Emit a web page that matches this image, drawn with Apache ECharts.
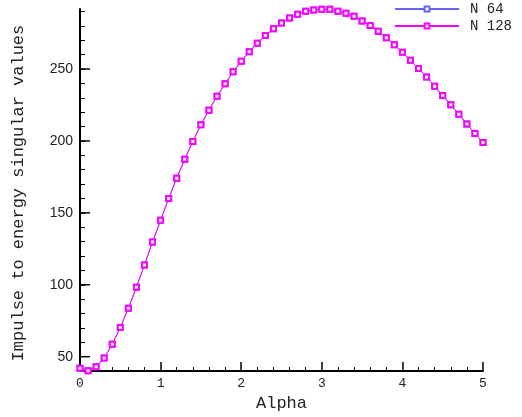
<!DOCTYPE html>
<html><head><meta charset="utf-8">
<script src="https://cdn.jsdelivr.net/npm/echarts@6/dist/echarts.min.js"></script>
<style>html,body{margin:0;padding:0;background:#fff}#c{width:522px;height:417px}</style>
</head><body><div id="c"></div>
<script>
var alpha = [0.0,0.1,0.2,0.3,0.4,0.5,0.6,0.7,0.8,0.9,1.0,1.1,1.2,1.3,1.4,1.5,1.6,1.7,1.8,1.9,2.0,2.1,2.2,2.3,2.4,2.5,2.6,2.7,2.8,2.9,3.0,3.1,3.2,3.3,3.4,3.5,3.6,3.7,3.8,3.9,4.0,4.1,4.2,4.3,4.4,4.5,4.6,4.7,4.8,4.9,5.0];
var n128 = [42,40.2,43,49.1,58.7,70.3,83.7,98.3,113.8,129.7,144.9,160,174.1,187.3,199.6,211.2,221.4,231,239.7,248.1,255.4,262,267.9,273.2,277.9,282,285.4,288.1,290.1,291,291.5,291.5,290.1,288.7,286.7,283.3,280.2,276.3,271.8,266.9,261.7,256,250.3,244.5,238,231.5,225.1,218.5,211.7,205.1,198.9];
var n64 = [42,40.2,43,49.1,58.7,70.3,83.7,98.3,113.8,129.7,144.9,160,174.1,187.3,199.6,211.2,221.4,231,239.7,248.1,255.4,262,267.9,273.2,277.9,282,285.4,288.1,290.1,291,291.5,291.5,290.1,288.7,286.7,283.3,280.2,276.3,271.8,266.9,261.7,256,250.3,244.5,238,231.5,225.1,218.5,211.7,205.1,198.9];
var xTicks = [0,1,2,3,4,5];
var yMajor = [50,100,150,200,250];
var seriesNames = ['N 64','N 128'];

function pairs(v){ return alpha.map(function(a,i){return [a,v[i]];}); }
var mono = 'Liberation Mono';
var chart = echarts.init(document.getElementById('c'), null, {renderer:'canvas'});
chart.setOption({
  animation:false,
  backgroundColor:'#fff',
  grid:{left:80,right:39,top:9,bottom:40,containLabel:false},
  legend:{
    data:seriesNames, orient:'vertical', left:389, top:-3,
    itemWidth:64, itemHeight:6, itemGap:3,
    textStyle:{fontFamily:mono,fontSize:14,color:'#222',padding:[0,0,0,6]}
  },
  xAxis:{
    type:'value', min:0, max:5, interval:1,
    name:'Alpha', nameLocation:'middle', nameGap:21,
    nameTextStyle:{fontFamily:mono,fontSize:17,color:'#222'},
    axisLine:{show:true,onZero:false,lineStyle:{color:'#000',width:2}},
    axisTick:{show:true,inside:true,length:9,lineStyle:{color:'#000',width:1.5}},
    minorTick:{show:true,splitNumber:5,length:4,lineStyle:{color:'#000',width:1}},
    axisLabel:{fontFamily:mono,fontSize:13,color:'#222',margin:6,
      formatter:function(v){return xTicks.indexOf(v)>=0?String(v):'';}},
    splitLine:{show:false}
  },
  yAxis:{
    type:'value', min:40, max:291.7, interval:10,
    name:'Impulse to energy singular values', nameLocation:'middle', nameGap:53,
    nameRotate:90,
    nameTextStyle:{fontFamily:mono,fontSize:17,color:'#222',padding:[0,6,0,0]},
    axisLine:{show:true,onZero:false,lineStyle:{color:'#000',width:2}},
    axisTick:{show:true,inside:true,length:5,lineStyle:{color:'#000',width:1}},
    axisLabel:{fontFamily:'Liberation Sans',fontSize:14,color:'#222',margin:7,
      showMinLabel:false, showMaxLabel:false,
      formatter:function(v){return yMajor.indexOf(v)>=0?String(v):'';}},
    splitLine:{show:false}
  },
  series:[
    {name:seriesNames[0], type:'line', data:pairs(n64),
     symbol:'emptyRect', symbolSize:5,
     lineStyle:{color:'#6666ff',width:1}, itemStyle:{color:'#6666ff',borderColor:'#5050ff',borderWidth:1}},
    {name:seriesNames[1], type:'line', data:pairs(n128),
     symbol:'emptyRect', symbolSize:5,
     lineStyle:{color:'#ff00ff',width:1}, itemStyle:{color:'#ff00ff',borderColor:'#ee00ee',borderWidth:1}},
    {name:'majorY', type:'custom', silent:true, clip:false, z:5,
     data:yMajor.map(function(v){return [0,v];}),
     renderItem:function(params, api){
       var p = api.coord([api.value(0), api.value(1)]);
       return {type:'line', shape:{x1:p[0], y1:p[1], x2:p[0]+10, y2:p[1]},
               style:{stroke:'#000', lineWidth:1.5}};
     }}
  ]
});
</script></body></html>
